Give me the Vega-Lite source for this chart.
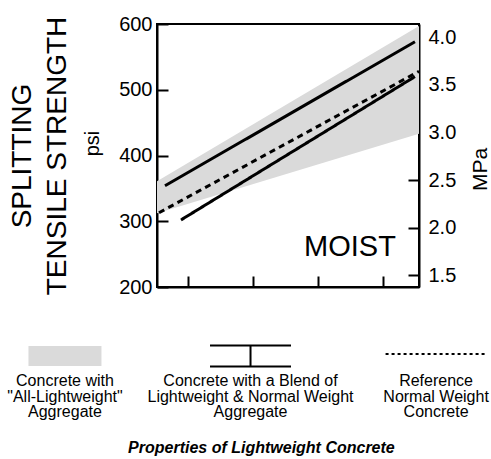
{
  "$schema": "https://vega.github.io/schema/vega-lite/v6.json",
  "padding": {"left": 7, "top": 13, "right": 0, "bottom": 0},
  "config": {
    "font": "Liberation Sans",
    "axis": {
      "labelFont": "Liberation Sans",
      "titleFont": "Liberation Sans",
      "labelColor": "black",
      "titleColor": "black",
      "domainColor": "black",
      "tickColor": "black",
      "domainWidth": 2,
      "tickWidth": 2,
      "grid": false,
      "titleFontWeight": "normal"
    }
  },
  "title": {
    "text": "Properties of Lightweight Concrete",
    "orient": "bottom",
    "anchor": "middle",
    "fontSize": 16,
    "fontWeight": "bold",
    "fontStyle": "italic",
    "font": "Liberation Sans",
    "color": "black",
    "offset": 20,
    "dx": 12
  },
  "spacing": 43,
  "vconcat": [
    {
      "width": 262,
      "height": 263,
      "view": {"stroke": "black", "strokeWidth": 2},
      "layer": [
        {
          "data": {"values": [
            {"strength": 2520, "lo": 312, "hi": 361},
            {"strength": 6550, "lo": 433, "hi": 597}
          ]},
          "mark": {"type": "area", "color": "#dadada"},
          "encoding": {
            "x": {
              "field": "strength", "type": "quantitative",
              "scale": {"domain": [2520, 6550], "nice": false, "zero": false},
              "axis": {"orient": "bottom", "values": [3000, 4000, 5000, 6000], "labels": false, "title": null, "tickSize": -11}
            },
            "y": {
              "field": "lo", "type": "quantitative",
              "scale": {"domain": [200, 600], "nice": false, "zero": false},
              "axis": {"orient": "left", "values": [200, 300, 400, 500, 600], "title": "psi", "titleFontSize": 20, "titlePadding": 16, "titleY": 119, "labelFontSize": 20, "labelPadding": 16, "tickSize": -11}
            },
            "y2": {"field": "hi"}
          }
        },
        {
          "data": {"values": [
            {"series": "Blend (upper)", "group": "Blend", "strength": 2643, "tensile": 354},
            {"series": "Blend (upper)", "group": "Blend", "strength": 6488, "tensile": 573},
            {"series": "Blend (lower)", "group": "Blend", "strength": 2889, "tensile": 302},
            {"series": "Blend (lower)", "group": "Blend", "strength": 6488, "tensile": 520},
            {"series": "Reference", "group": "Reference", "strength": 2551, "tensile": 313},
            {"series": "Reference", "group": "Reference", "strength": 6550, "tensile": 528}
          ]},
          "mark": {"type": "line", "color": "black", "strokeWidth": 3, "strokeCap": "butt"},
          "encoding": {
            "x": {"field": "strength", "type": "quantitative"},
            "y": {
              "field": "tensile", "type": "quantitative",
              "axis": {"orient": "right", "values": [217.5, 290, 362.5, 435, 507.5, 580], "labelExpr": "format(datum.value / 145, '.1f')", "title": "MPa", "titleFontSize": 21, "titleAngle": 270, "titleBaseline": "top", "titlePadding": 14, "titleY": 145, "labelFontSize": 20, "labelPadding": 20, "tickSize": -11}
            },
            "detail": {"field": "series"},
            "strokeDash": {"field": "group", "type": "nominal", "scale": {"domain": ["Blend", "Reference"], "range": [[1, 0], [6, 4.5]]}, "legend": null}
          }
        },
        {
          "data": {"values": [{"label": "MOIST", "strength": 5489, "tensile": 247}]},
          "mark": {"type": "text", "fontSize": 29, "align": "center", "baseline": "alphabetic", "color": "black"},
          "encoding": {
            "x": {"field": "strength", "type": "quantitative"},
            "y": {
              "field": "tensile", "type": "quantitative",
              "axis": {"orient": "left", "title": ["SPLITTING", "TENSILE STRENGTH"], "titleFontSize": 28, "titleLineHeight": 35, "titlePadding": 86, "labels": false, "ticks": false, "domain": false}
            },
            "text": {"field": "label"}
          }
        }
      ],
      "resolve": {"axis": {"y": "independent"}}
    },
    {
      "width": 262,
      "height": 60,
      "view": {"stroke": null},
      "data": {"values": [
        {"order": 1, "key": "All-Lightweight", "label": "Concrete with\n\"All-Lightweight\"\nAggregate"},
        {"order": 2, "key": "Blend", "label": "Concrete with a Blend of\nLightweight & Normal Weight\nAggregate"},
        {"order": 3, "key": "Reference", "label": "Reference\nNormal Weight\nConcrete"}
      ]},
      "encoding": {
        "x": {"field": "order", "type": "quantitative", "scale": {"domain": [1.496, 2.908], "nice": false, "zero": false}, "axis": null}
      },
      "layer": [
        {
          "transform": [{"filter": "datum.key === 'All-Lightweight'"}],
          "mark": {"type": "point", "shape": "M-1,-0.274H1V0.274H-1Z", "size": 5329, "filled": true, "fill": "#dadada", "strokeWidth": 0, "opacity": 1, "yOffset": -15}
        },
        {
          "transform": [{"filter": "datum.key === 'Blend'"}],
          "mark": {"type": "point", "shape": "M-1,-0.26H1M0,-0.26V0.26M-1,0.26H1", "size": 6561, "filled": false, "stroke": "black", "strokeWidth": 2, "opacity": 1, "yOffset": -15}
        },
        {
          "transform": [{"filter": "datum.key === 'Reference'"}],
          "mark": {"type": "point", "shape": "M-1,0H1", "size": 10201, "filled": false, "stroke": "black", "strokeWidth": 2, "strokeDash": [3, 3], "opacity": 1, "yOffset": -17}
        },
        {
          "mark": {"type": "text", "lineBreak": "\n", "fontSize": 16, "lineHeight": 15.5, "dy": 15, "align": "center", "baseline": "alphabetic", "color": "black"},
          "encoding": {"text": {"field": "label"}}
        }
      ]
    }
  ]
}
